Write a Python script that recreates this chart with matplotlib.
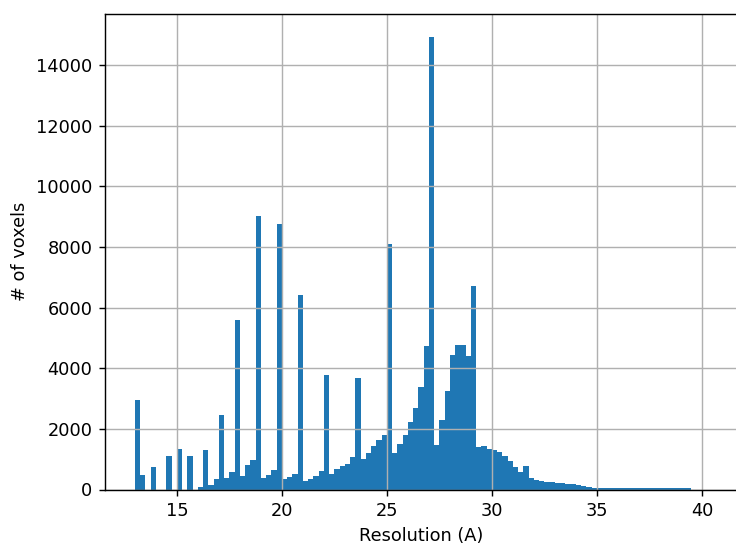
import matplotlib
matplotlib.use("Agg")
import matplotlib.pyplot as plt
import numpy as np

# histogram of local resolution values, 0.25 A bins starting at ~12.99 A
bin_start = 12.99
bin_width = 0.25
counts = [
    2940, 490, 0, 740, 0, 0, 1120, 0, 1320, 0,
    1120, 0, 80, 1300, 150, 330, 2470, 370, 570, 5590,
    445, 800, 970, 9010, 380, 490, 630, 8760, 330, 410,
    500, 6420, 270, 345, 445, 620, 3780, 520, 665, 775,
    830, 1080, 3660, 1000, 1215, 1445, 1635, 1800, 8110, 1215,
    1510, 1800, 2220, 2700, 3370, 4730, 14930, 1470, 2280, 3250,
    4440, 4770, 4770, 4390, 6710, 1390, 1435, 1330, 1300, 1230,
    1120, 930, 755, 580, 786, 370, 314, 270, 245, 235,
    215, 205, 185, 165, 150, 128, 95, 60, 58, 56,
    55, 53, 52, 50, 49, 48, 47, 46, 45, 44,
    43, 42, 41, 40, 40, 39,
]

counts = np.array(counts, dtype=float)
edges = bin_start + bin_width * np.arange(len(counts) + 1)
centers = (edges[:-1] + edges[1:]) / 2.0

DPI = 128
fig = plt.figure(figsize=(736 / DPI, 546 / DPI), dpi=DPI)
# the reference is cropped on the right, so the axes run past the figure edge
ax = fig.add_axes([105 / 736, (546 - 489.5) / 546, 633 / 736, 475.5 / 546])
ax.hist(centers, bins=edges, weights=counts, color="#1f77b4")
ax.set_xlim(11.57, 41.71)
ax.grid(True)
ax.set_xlabel("Resolution (A)")
ax.set_ylabel("# of voxels")
fig.savefig("out.png", dpi=DPI)
